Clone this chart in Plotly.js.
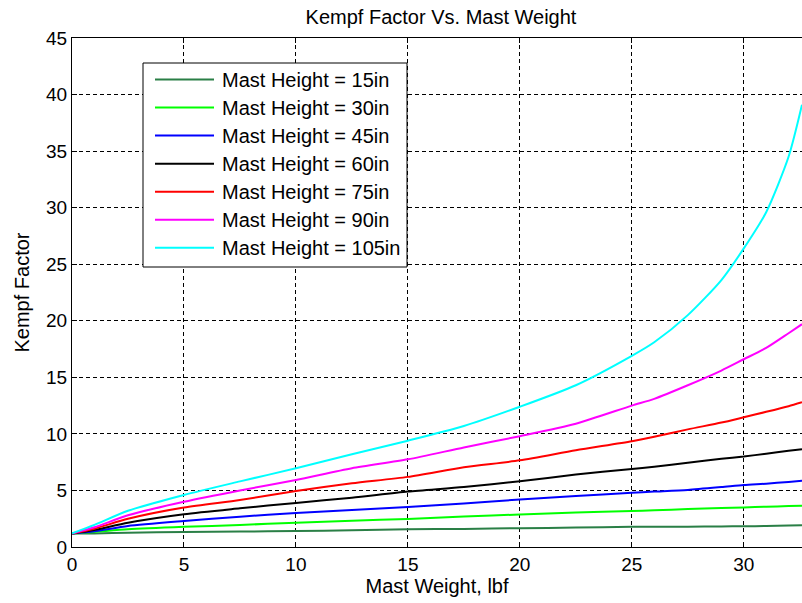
<!DOCTYPE html>
<html>
<head>
<meta charset="utf-8">
<script src="https://cdn.plot.ly/plotly-3.0.1.min.js"></script>
<style>
  html, body { margin: 0; padding: 0; background: #ffffff; overflow: hidden; }
  #chart { width: 802px; height: 603px; }
</style>
</head>
<body>
<div id="chart"></div>
<script>
// Mast weight (lbf) sample points
const mastWeight = [0, 1, 2.5, 5, 7.5, 10, 12.5, 15, 17.5, 20, 22.5, 25, 26, 27.5, 29, 30, 31, 32, 32.6];

// Kempf factor for each mast height
const kempf15  = [1.2, 1.2, 1.26, 1.32, 1.36, 1.42, 1.47, 1.56, 1.6, 1.66, 1.72, 1.78, 1.8, 1.8, 1.82, 1.83, 1.86, 1.9, 1.93];
const kempf30  = [1.2, 1.33, 1.56, 1.78, 1.95, 2.15, 2.33, 2.48, 2.7, 2.87, 3.05, 3.18, 3.25, 3.35, 3.45, 3.5, 3.56, 3.62, 3.65];
const kempf45  = [1.2, 1.39, 1.86, 2.3, 2.68, 3.0, 3.27, 3.53, 3.85, 4.2, 4.5, 4.8, 4.9, 5.05, 5.3, 5.48, 5.6, 5.75, 5.85];
const kempf60  = [1.2, 1.5, 2.15, 2.9, 3.42, 3.9, 4.36, 4.9, 5.3, 5.82, 6.4, 6.9, 7.1, 7.45, 7.8, 8.0, 8.25, 8.5, 8.65];
const kempf75  = [1.2, 1.62, 2.5, 3.5, 4.16, 4.95, 5.63, 6.2, 7.05, 7.66, 8.55, 9.35, 9.75, 10.4, 11.0, 11.47, 11.95, 12.45, 12.8];
const kempf90  = [1.2, 1.74, 2.8, 4.0, 5.0, 5.92, 6.96, 7.75, 8.8, 9.8, 10.9, 12.5, 13.1, 14.3, 15.6, 16.6, 17.6, 18.9, 19.7];
const kempf105 = [1.2, 1.95, 3.2, 4.6, 5.8, 6.96, 8.2, 9.4, 10.7, 12.4, 14.3, 16.9, 18.1, 20.5, 23.6, 26.4, 29.6, 34.5, 39.1];

const seriesNames = [
  'Mast Height = 15in', 'Mast Height = 30in', 'Mast Height = 45in',
  'Mast Height = 60in', 'Mast Height = 75in', 'Mast Height = 90in',
  'Mast Height = 105in'
];
const seriesValues = [kempf15, kempf30, kempf45, kempf60, kempf75, kempf90, kempf105];
const seriesColors = ['#2a7f46', '#00ff00', '#0000ff', '#000000', '#ff0000', '#ff00ff', '#00ffff'];

const xTickVals = [0, 5, 10, 15, 20, 25, 30];
const yTickVals = [0, 5, 10, 15, 20, 25, 30, 35, 40, 45];

const FONT = 'Arial, "Liberation Sans", sans-serif';

const traces = seriesValues.map((vals, i) => ({
  type: 'scatter',
  mode: 'lines',
  x: mastWeight,
  y: vals,
  name: seriesNames[i],
  line: { color: seriesColors[i], width: 2, shape: 'spline', smoothing: 0.7 },
  hoverinfo: 'x+y+name'
}));

// Plot area in pixels (paper coordinates are derived from these)
const W = 802, H = 603;
const M = { l: 72, r: 0, t: 38, b: 56 };
const plotW = W - M.l - M.r;
const plotH = H - M.t - M.b;
const px2x = px => (px - M.l) / plotW;
const py2y = py => (H - M.b - py) / plotH;

// Boxed legend in the upper-left of the axes
const legBox = { x0: 143, x1: 407, y0: 63, y1: 267 };
const legLine = { x0: 155, x1: 214 };
const legText = 220;
const legRow0 = 79.5, legStep = 28.05;

const shapes = [{
  type: 'rect', xref: 'paper', yref: 'paper', layer: 'above',
  x0: px2x(legBox.x0), x1: px2x(legBox.x1),
  y0: py2y(legBox.y1), y1: py2y(legBox.y0),
  fillcolor: '#ffffff', line: { color: '#000000', width: 1 }
}];
const annotations = [];
seriesNames.forEach((name, i) => {
  const yy = py2y(legRow0 + legStep * i);
  shapes.push({
    type: 'line', xref: 'paper', yref: 'paper', layer: 'above',
    x0: px2x(legLine.x0), x1: px2x(legLine.x1), y0: yy, y1: yy,
    line: { color: seriesColors[i], width: 2 }
  });
  annotations.push({
    xref: 'paper', yref: 'paper', x: px2x(legText), y: yy,
    xanchor: 'left', yanchor: 'middle', showarrow: false,
    text: name, font: { family: FONT, size: 20, color: '#000000' }
  });
});

const gridStyle = {
  showgrid: true, gridcolor: '#000000', gridwidth: 1, griddash: '4px,3px',
  zeroline: false, showline: true, linecolor: '#000000', linewidth: 1,
  ticks: 'inside', ticklen: 5, tickcolor: '#000000', tickwidth: 1,
  tickfont: { family: FONT, size: 19, color: '#000000' }
};

const layout = {
  width: W, height: H,
  margin: M,
  paper_bgcolor: '#ffffff', plot_bgcolor: '#ffffff',
  showlegend: false,
  title: {
    text: 'Kempf Factor Vs. Mast Weight',
    font: { family: FONT, size: 20, color: '#000000' },
    xref: 'container', yref: 'container',
    x: 441 / W, xanchor: 'center',
    y: 1 - 17 / H, yanchor: 'middle'
  },
  xaxis: Object.assign({}, gridStyle, {
    range: [0, 32.6], tickvals: xTickVals, mirror: 'ticks',
    title: { text: 'Mast Weight, lbf', font: { family: FONT, size: 20, color: '#000000' }, standoff: 5 }
  }),
  yaxis: Object.assign({}, gridStyle, {
    range: [0, 45], tickvals: yTickVals, mirror: false,
    title: { text: 'Kempf Factor', font: { family: FONT, size: 20, color: '#000000' }, standoff: 11 }
  }),
  shapes: shapes,
  annotations: annotations
};

Plotly.newPlot('chart', traces, layout, { displayModeBar: false });
</script>
</body>
</html>
